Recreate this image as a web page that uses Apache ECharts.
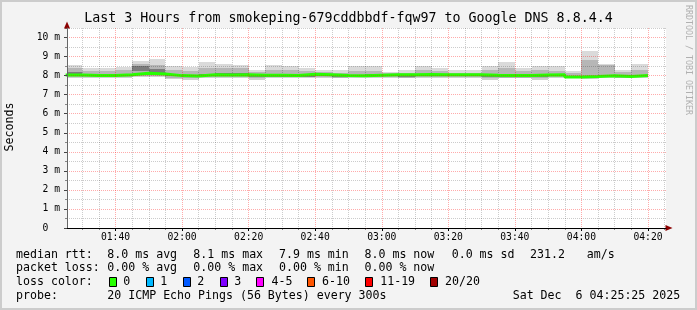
<!DOCTYPE html>
<html><head><meta charset="utf-8">
<script src="https://cdn.jsdelivr.net/npm/echarts@6/dist/echarts.min.js"></script>
<style>html,body{margin:0;padding:0;background:#f3f3f3}#c{width:697px;height:310px}</style>
</head><body><div id="c"></div>
<script>
// ---- data ----
const stepTimes = ['01:25','01:30','01:35','01:40','01:45','01:50','01:55',
  '02:00','02:05','02:10','02:15','02:20','02:25','02:30','02:35','02:40','02:45','02:50','02:55',
  '03:00','03:05','03:10','03:15','03:20','03:25','03:30','03:35','03:40','03:45','03:50','03:55',
  '04:00','04:05','04:10','04:15'];
const stepEnd = '04:20';
const xRange = ['01:25:25', '04:25:25'];
const xMajorTicks = ['01:40','02:00','02:20','02:40','03:00','03:20','03:40','04:00','04:20'];
const xMinorTicks = ['01:30','01:35','01:45','01:50','01:55','02:05','02:10','02:15','02:25','02:30','02:35',
  '02:45','02:50','02:55','03:05','03:10','03:15','03:25','03:30','03:35','03:45','03:50','03:55',
  '04:05','04:10','04:15','04:25'];
const yMajorTicks = [0,1,2,3,4,5,6,7,8,9,10];
const yMinorTicks = [0.5,1.5,2.5,3.5,4.5,5.5,6.5,7.5,8.5,9.5,10.5];
const yMax = 10.5;

// smoke boundaries (ms) per 5-minute step
const smokeMin     = [7.86,7.90,7.88,7.90,7.95,7.94,7.84,7.77,7.88,7.90,7.90,7.77,7.88,7.88,7.88,7.90,7.86,7.88,7.90,7.86,7.86,7.90,7.90,7.86,7.86,7.77,7.86,7.86,7.77,7.86,7.86,7.84,7.90,7.86,7.86];
const smokeLowMid  = [7.93,7.94,7.93,7.95,8.00,8.00,7.90,7.85,7.94,7.95,7.95,7.88,7.91,7.91,7.91,7.94,7.90,7.92,7.94,7.92,7.90,7.94,7.94,7.92,7.92,7.85,7.89,7.89,7.86,7.92,7.88,7.88,7.93,7.89,7.91];
const smokeLowDark = [8.00,7.98,7.97,8.00,8.22,8.16,7.96,7.92,7.98,8.00,8.00,7.95,7.94,7.93,7.94,7.98,7.93,7.95,7.97,7.97,7.94,7.98,7.98,7.97,7.97,7.92,7.92,7.92,7.94,7.97,7.90,7.92,7.96,7.92,7.95];
const smokeHighDark= [8.18,8.06,8.06,8.10,8.50,8.35,8.05,8.02,8.10,8.12,8.15,8.05,8.06,8.04,8.02,8.06,8.02,8.04,8.06,8.06,8.02,8.10,8.08,8.06,8.06,8.04,8.05,8.04,8.06,8.10,7.98,8.00,8.05,8.00,8.05];
const smokeHighMid = [8.38,8.25,8.26,8.30,8.62,8.56,8.30,8.25,8.40,8.40,8.42,8.18,8.30,8.28,8.22,8.18,8.15,8.25,8.25,8.12,8.15,8.30,8.25,8.16,8.16,8.28,8.40,8.22,8.28,8.22,8.12,8.83,8.55,8.18,8.30];
const smokeMax     = [8.56,8.42,8.42,8.46,8.78,8.85,8.53,8.46,8.72,8.63,8.56,8.30,8.56,8.50,8.39,8.30,8.30,8.48,8.48,8.18,8.27,8.48,8.42,8.27,8.27,8.48,8.74,8.39,8.48,8.48,8.25,9.29,8.60,8.30,8.60];
const medianRtt    = [8.03,8.00,8.00,8.04,8.13,8.08,8.00,7.98,8.04,8.03,8.04,8.02,8.02,8.00,8.07,8.04,8.00,7.99,8.02,8.04,8.05,8.06,8.04,8.04,8.04,8.02,8.01,8.01,8.03,8.04,7.93,7.95,7.99,7.95,8.01];

const titleText = 'Last 3 Hours from smokeping-679cddbbdf-fqw97 to Google DNS 8.8.4.4';
const lossColors = [['0','#26ff00'],['1','#00b8ff'],['2','#0059ff'],['3','#7e00ff'],['4-5','#ff00ff'],['6-10','#ff5500'],['11-19','#ff0000'],['20/20','#a10000']];

// ---- helpers ----
const toMin = s => { const p = s.split(':').map(Number); return p[0]*60 + p[1] + (p[2]||0)/60; };
const fmt = m => { const h = Math.floor(m/60 + 1e-9); const mm = Math.round(m - h*60);
  return String(h).padStart(2,'0') + ':' + String(mm).padStart(2,'0'); };
const starts = stepTimes.map(toMin);
const ends = starts.slice(1).concat([toMin(stepEnd)]);
const xMin = toMin(xRange[0]), xMax = toMin(xRange[1]);

const bands = [
  {lo: smokeMin, hi: smokeLowMid, color: '#d0d0d0'},
  {lo: smokeLowMid, hi: smokeLowDark, color: '#b2b2b2'},
  {lo: smokeLowDark, hi: smokeHighDark, color: '#7c7c7c'},
  {lo: smokeHighDark, hi: smokeHighMid, color: '#b6b6b6'},
  {lo: smokeHighMid, hi: smokeMax, color: '#dadada'}
];
const series = bands.map(b => ({
  type: 'custom', silent: true, clip: true,
  encode: {x: [0, 1], y: [2, 3]},
  data: starts.map((s, i) => [s, ends[i], b.lo[i], b.hi[i]]),
  renderItem: (params, api) => {
    const p0 = api.coord([api.value(0), api.value(3)]);
    const p1 = api.coord([api.value(1), api.value(2)]);
    const x0 = Math.round(p0[0]), x1 = Math.round(p1[0]);
    const y0 = Math.round(p0[1]), y1 = Math.round(p1[1]);
    const cs = params.coordSys;
    const r = echarts.graphic.clipRectByRect({x: x0, y: y0, width: x1 - x0, height: y1 - y0},
      {x: cs.x, y: cs.y, width: cs.width, height: cs.height});
    return r && {type: 'rect', shape: r, style: {fill: b.color}};
  }
}));
series.push({
  type: 'line', step: 'end', symbol: 'none', silent: true,
  data: starts.concat([toMin(stepEnd)]).map((x, i) => [x, medianRtt[Math.min(i, medianRtt.length - 1)]]),
  lineStyle: {color: '#26ff00', width: 3}
});

const MONO = 'DejaVu Sans Mono';
const MAJOR = 'rgba(255,0,0,0.33)';
const MINOR = 'rgba(0,0,0,0.2)';
const ARROW = '#8b0000';

// ---- graphic texts ----
const g = [];
const txt = (t, x, y, size) => g.push({type:'text', x, y, silent:true,
  style: {text: t, font: size + 'px "' + MONO + '"', fill: '#000', textVerticalAlign: 'middle'}});
g.push({type:'rect', shape:{x:1, y:1, width:695, height:308}, style:{fill:'none', stroke:'#cccccc', lineWidth:2}, silent:true, z:-10});
txt(titleText, 84.3, 19, 13.3);
g.push({type:'text', x:10, y:127, rotation: Math.PI/2, silent:true,
  style:{text:'Seconds', font:'11.6px "'+MONO+'"', fill:'#000', textAlign:'center', textVerticalAlign:'middle'}});
g.push({type:'text', x:688.5, y:60, rotation: -Math.PI/2, silent:true,
  style:{text:'RRDTOOL / TOBI OETIKER', font:'8.3px "'+MONO+'"', fill:'#b0b0b0', textAlign:'center', textVerticalAlign:'middle'}});
const LS = 11.6;
const r1 = 254.5, r2 = 268.3, r3 = 281.8, r4 = 295.8;
txt('median rtt:', 16, r1, LS);
txt('8.0 ms avg', 107.3, r1, LS); txt('8.1 ms max', 193.3, r1, LS); txt('7.9 ms min', 279, r1, LS);
txt('8.0 ms now', 364.5, r1, LS); txt('0.0 ms sd', 451.7, r1, LS); txt('231.2', 530, r1, LS); txt('am/s', 586.7, r1, LS);
txt('packet loss:', 16, r2, LS);
txt('0.00 % avg', 107.3, r2, LS); txt('0.00 % max', 193.3, r2, LS); txt('0.00 % min', 279, r2, LS); txt('0.00 % now', 364.5, r2, LS);
txt('loss color:', 16, r3, LS);
const boxX = [108.7, 145.7, 182.7, 219.5, 256.4, 307, 365, 430.3];
const labX = [123.3, 160.3, 197.3, 234.2, 271.5, 322, 380.2, 445];
lossColors.forEach((c, i) => {
  g.push({type:'rect', shape:{x: Math.round(boxX[i]) + 0.5, y: 277.5, width: 7, height: 9}, silent:true,
    style:{fill: c[1], stroke:'#000', lineWidth:1}});
  txt(c[0], labX[i], r3, LS);
});
txt('probe:', 16, r4, LS);
txt('20 ICMP Echo Pings (56 Bytes) every 300s', 107.3, r4, LS);
txt('Sat Dec  6 04:25:25 2025', 512.7, r4, LS);

const axisFont = {fontFamily: MONO, fontSize: 9.7, color: '#000'};

const option = {
  animation: false,
  backgroundColor: '#f3f3f3',
  grid: {left: 67, right: 31, top: 28, bottom: 82, show: true, backgroundColor: '#ffffff', borderWidth: 0},
  xAxis: [
    { type: 'value', min: xMin, max: xMax, z: 3,
      axisLine: {show: true, lineStyle: {color: ARROW, width: 1}, symbol: ['none', 'triangle'], symbolSize: [6, 7], symbolOffset: [0, 3]},
      axisTick: {show: true, customValues: xMinorTicks.map(toMin), length: 2, lineStyle: {color: '#888'}},
      axisLabel: {show: false, customValues: xMinorTicks.map(toMin)},
      splitLine: {show: true, lineStyle: {color: MINOR, type: [1, 1], width: 1}} },
    { type: 'value', min: xMin, max: xMax, z: 4, position: 'bottom',
      axisLine: {show: true, onZero: false, lineStyle: {color: '#000', width: 1}},
      axisTick: {show: true, customValues: xMajorTicks.map(toMin), length: 3, lineStyle: {color: '#000'}},
      axisLabel: Object.assign({show: true, customValues: xMajorTicks.map(toMin), margin: 4, formatter: v => fmt(v)}, axisFont),
      splitLine: {show: true, lineStyle: {color: MAJOR, type: [1, 1], width: 1}} }
  ],
  yAxis: [
    { type: 'value', min: 0, max: yMax, z: 3,
      axisLine: {show: true, lineStyle: {color: ARROW, width: 1}, symbol: ['none', 'triangle'], symbolSize: [6, 7], symbolOffset: [0, 3]},
      axisTick: {show: true, customValues: yMinorTicks, length: 2, lineStyle: {color: '#888'}},
      axisLabel: {show: false, customValues: yMinorTicks},
      splitLine: {show: true, lineStyle: {color: MINOR, type: [1, 1], width: 1}} },
    { type: 'value', min: 0, max: yMax, z: 4, position: 'left',
      axisLine: {show: true, onZero: false, lineStyle: {color: '#666', width: 1}},
      axisTick: {show: true, customValues: yMajorTicks, length: 3, lineStyle: {color: '#444'}},
      axisLabel: Object.assign({show: true, customValues: yMajorTicks, margin: 7,
        formatter: v => (v === 0 ? '0  ' : v + ' m')}, axisFont),
      splitLine: {show: true, lineStyle: {color: MAJOR, type: [1, 1], width: 1}} }
  ],
  series: series,
  graphic: {elements: g}
};
const chart = echarts.init(document.getElementById('c'), null, {renderer: 'canvas'});
chart.setOption(option);
</script></body></html>
